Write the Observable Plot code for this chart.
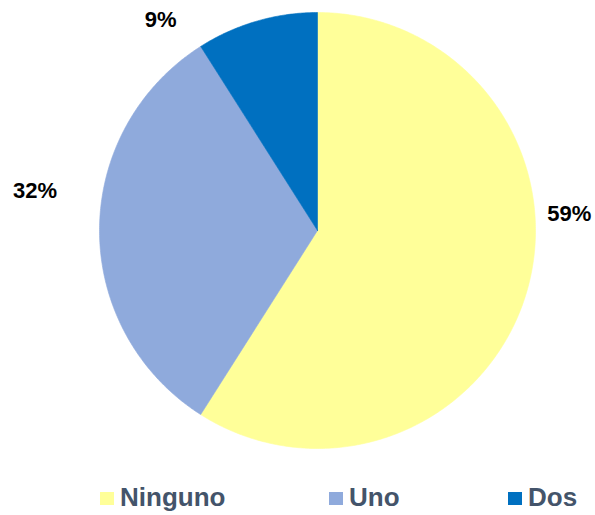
<!DOCTYPE html>
<html>
<head>
<meta charset="utf-8">
<script src="https://cdn.jsdelivr.net/npm/d3@7"></script>
<script src="https://cdn.jsdelivr.net/npm/@observablehq/plot@0.6"></script>
<style>
  html, body { margin: 0; padding: 0; background: #fff; }
  #wrap { position: relative; width: 595px; height: 515px; font-family: "Liberation Sans", Arial, sans-serif; }
  #legend { position: absolute; left: 0; top: 470px; width: 595px; height: 45px; }
  .item { position: absolute; top: 12px; display: flex; align-items: center; font-weight: bold; font-size: 26px; color: #44546A; line-height: 30px; }
  .sw { width: 14px; height: 13px; margin-right: 6px; margin-top: 3px; }
</style>
</head>
<body>
<div id="wrap"><div id="chart"></div><div id="legend"></div></div>
<script>
// Data
const categories = ["Ninguno", "Uno", "Dos"];
const values = [59, 32, 9];
const labels = ["59%", "32%", "9%"];
const colors = ["#FFFF99", "#8FAADC", "#0070C0"];

// Layout (label anchors in pie units, legend item left edges in px)
const labelAnchors = [[1.155, 0.076], [-1.296, 0.183], [-0.72, 0.968]];
const legendLeft = [100, 329, 508];

const arcs = d3.pie().sort(null).startAngle(0).endAngle(2 * Math.PI)(values);
const slices = arcs.map((a, i) => {
  const n = Math.max(2, Math.ceil((a.endAngle - a.startAngle) / (Math.PI / 360)));
  const pts = [{x: 0, y: 0}];
  for (let k = 0; k <= n; k++) {
    const t = a.startAngle + (a.endAngle - a.startAngle) * k / n;
    pts.push({x: Math.sin(t), y: Math.cos(t)});
  }
  pts.push({x: 0, y: 0});
  return {name: categories[i], color: colors[i], pts};
});

const labelData = labels.map((l, i) => ({text: l, x: labelAnchors[i][0], y: labelAnchors[i][1]}));

const chart = Plot.plot({
  width: 595,
  height: 470,
  margin: 0,
  style: {background: "#fff", fontFamily: "Liberation Sans, Arial, sans-serif"},
  x: {domain: [-1, 1], range: [99, 535], axis: null},
  y: {domain: [-1, 1], range: [448, 12], axis: null},
  marks: [
    ...slices.map(s => Plot.line(s.pts, {x: "x", y: "y", fill: s.color, stroke: s.color, strokeWidth: 0.6, curve: "linear"})),
    Plot.text(labelData, {x: "x", y: "y", text: "text", fontSize: 22, fontWeight: "bold", fill: "#000"})
  ]
});
document.getElementById("chart").appendChild(chart);

const legend = document.getElementById("legend");
categories.forEach((c, i) => {
  const item = document.createElement("div");
  item.className = "item";
  item.style.left = legendLeft[i] + "px";
  const sw = document.createElement("span");
  sw.className = "sw";
  sw.style.background = colors[i];
  const tx = document.createElement("span");
  tx.textContent = c;
  item.appendChild(sw);
  item.appendChild(tx);
  legend.appendChild(item);
});
</script>
</body>
</html>
